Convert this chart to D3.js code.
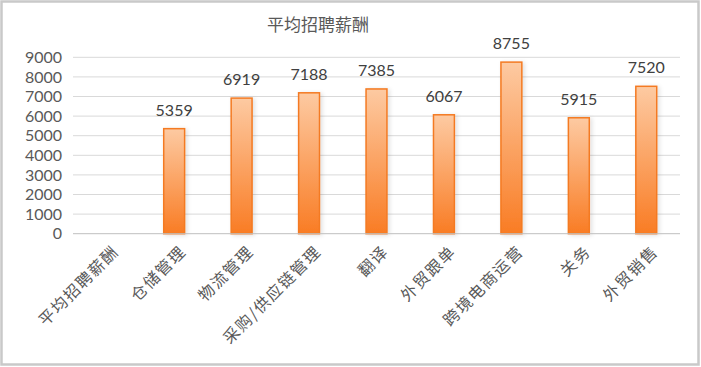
<!DOCTYPE html>
<html><head><meta charset="utf-8">
<script src="https://cdn.jsdelivr.net/npm/d3@7"></script>
<style>
html,body{margin:0;padding:0;background:#fff;}
svg{display:block;}
</style></head>
<body>
<svg id="chart" width="701" height="367"></svg>
<script>
const title = "平均招聘薪酬";
const categories = ["平均招聘薪酬","仓储管理","物流管理","采购/供应链管理","翻译","外贸跟单","跨境电商运营","关务","外贸销售"];
const values = [null,5359,6919,7188,7385,6067,8755,5915,7520];
const yTicks = [0,1000,2000,3000,4000,5000,6000,7000,8000,9000];

const svg = d3.select("#chart");
const W = 701, H = 367;
svg.append("rect").attr("x",1.5).attr("y",1.5).attr("width",W-4).attr("height",H-4)
  .attr("fill","#fff").attr("stroke","#c9c9c9").attr("stroke-width",2.5);

const m = {left:73, right:680, top:57.3, bottom:233.7};
const x = d3.scaleBand().domain(categories).range([m.left,m.right]).paddingInner(0.69).paddingOuter(0.345);
const y = d3.scaleLinear().domain([0,9000]).range([m.bottom,m.top]);

const defs = svg.append("defs");
const g = defs.append("linearGradient").attr("id","barGrad").attr("x1",0).attr("y1",0).attr("x2",0).attr("y2",1);
g.append("stop").attr("offset","0%").attr("stop-color","#fdcaa2");
g.append("stop").attr("offset","100%").attr("stop-color","#f97c24");
const f = defs.append("filter").attr("id","sh").attr("x","-50%").attr("y","-20%").attr("width","200%").attr("height","140%");
f.append("feDropShadow").attr("dx",2).attr("dy",1).attr("stdDeviation",2).attr("flood-color","#000").attr("flood-opacity",0.12);

// gridlines
svg.append("g").selectAll("line").data(yTicks.filter(d=>d>0)).join("line")
  .attr("x1",m.left).attr("x2",m.right).attr("y1",d=>y(d)).attr("y2",d=>y(d))
  .attr("stroke","#d9d9d9").attr("stroke-width",1);

// y axis
const yAxis = svg.append("g").attr("transform",`translate(${m.left},0)`)
  .call(d3.axisLeft(y).tickValues(yTicks).tickSize(0).tickPadding(11).tickFormat(d3.format("d")));
yAxis.select(".domain").remove();
yAxis.selectAll("text").attr("font-family","Lato,'Open Sans',sans-serif").attr("font-size",16).attr("fill","#595959");

// bars
const data = categories.map((c,i)=>({c,v:values[i]})).filter(d=>d.v!=null);
svg.append("g").selectAll("rect").data(data).join("rect")
  .attr("x",d=>x(d.c)).attr("width",x.bandwidth())
  .attr("y",d=>y(d.v)).attr("height",d=>y(0)-y(d.v))
  .attr("fill","url(#barGrad)").attr("stroke","#f47a22").attr("stroke-width",1.5)
  .attr("filter","url(#sh)");

// x axis line
svg.append("line").attr("x1",m.left).attr("x2",m.right).attr("y1",y(0)).attr("y2",y(0))
  .attr("stroke","#bfbfbf").attr("stroke-width",1);

// value labels
svg.append("g").selectAll("text").data(data).join("text")
  .attr("x",d=>x(d.c)+x.bandwidth()/2).attr("y",d=>y(d.v)-13)
  .attr("text-anchor","middle").attr("font-family","Lato,'Open Sans',sans-serif")
  .attr("font-size",16).attr("fill","#404040").text(d=>d.v);

// category labels
svg.append("g").selectAll("text").data(categories).join("text")
  .attr("transform",d=>`translate(${x(d)+x.bandwidth()/2+9},${y(0)+15}) rotate(-45)`)
  .attr("text-anchor","end").attr("dy","0.35em")
  .attr("font-family","'Noto Sans CJK SC',sans-serif").attr("font-size",16)
  .attr("letter-spacing","1.5px")
  .attr("fill","#595959").text(d=>d);

// title
svg.append("text").attr("x",318).attr("y",31).attr("text-anchor","middle")
  .attr("font-family","'Noto Sans CJK SC',sans-serif").attr("font-size",17)
  .attr("fill","#595959").text(title);
</script>
</body></html>
